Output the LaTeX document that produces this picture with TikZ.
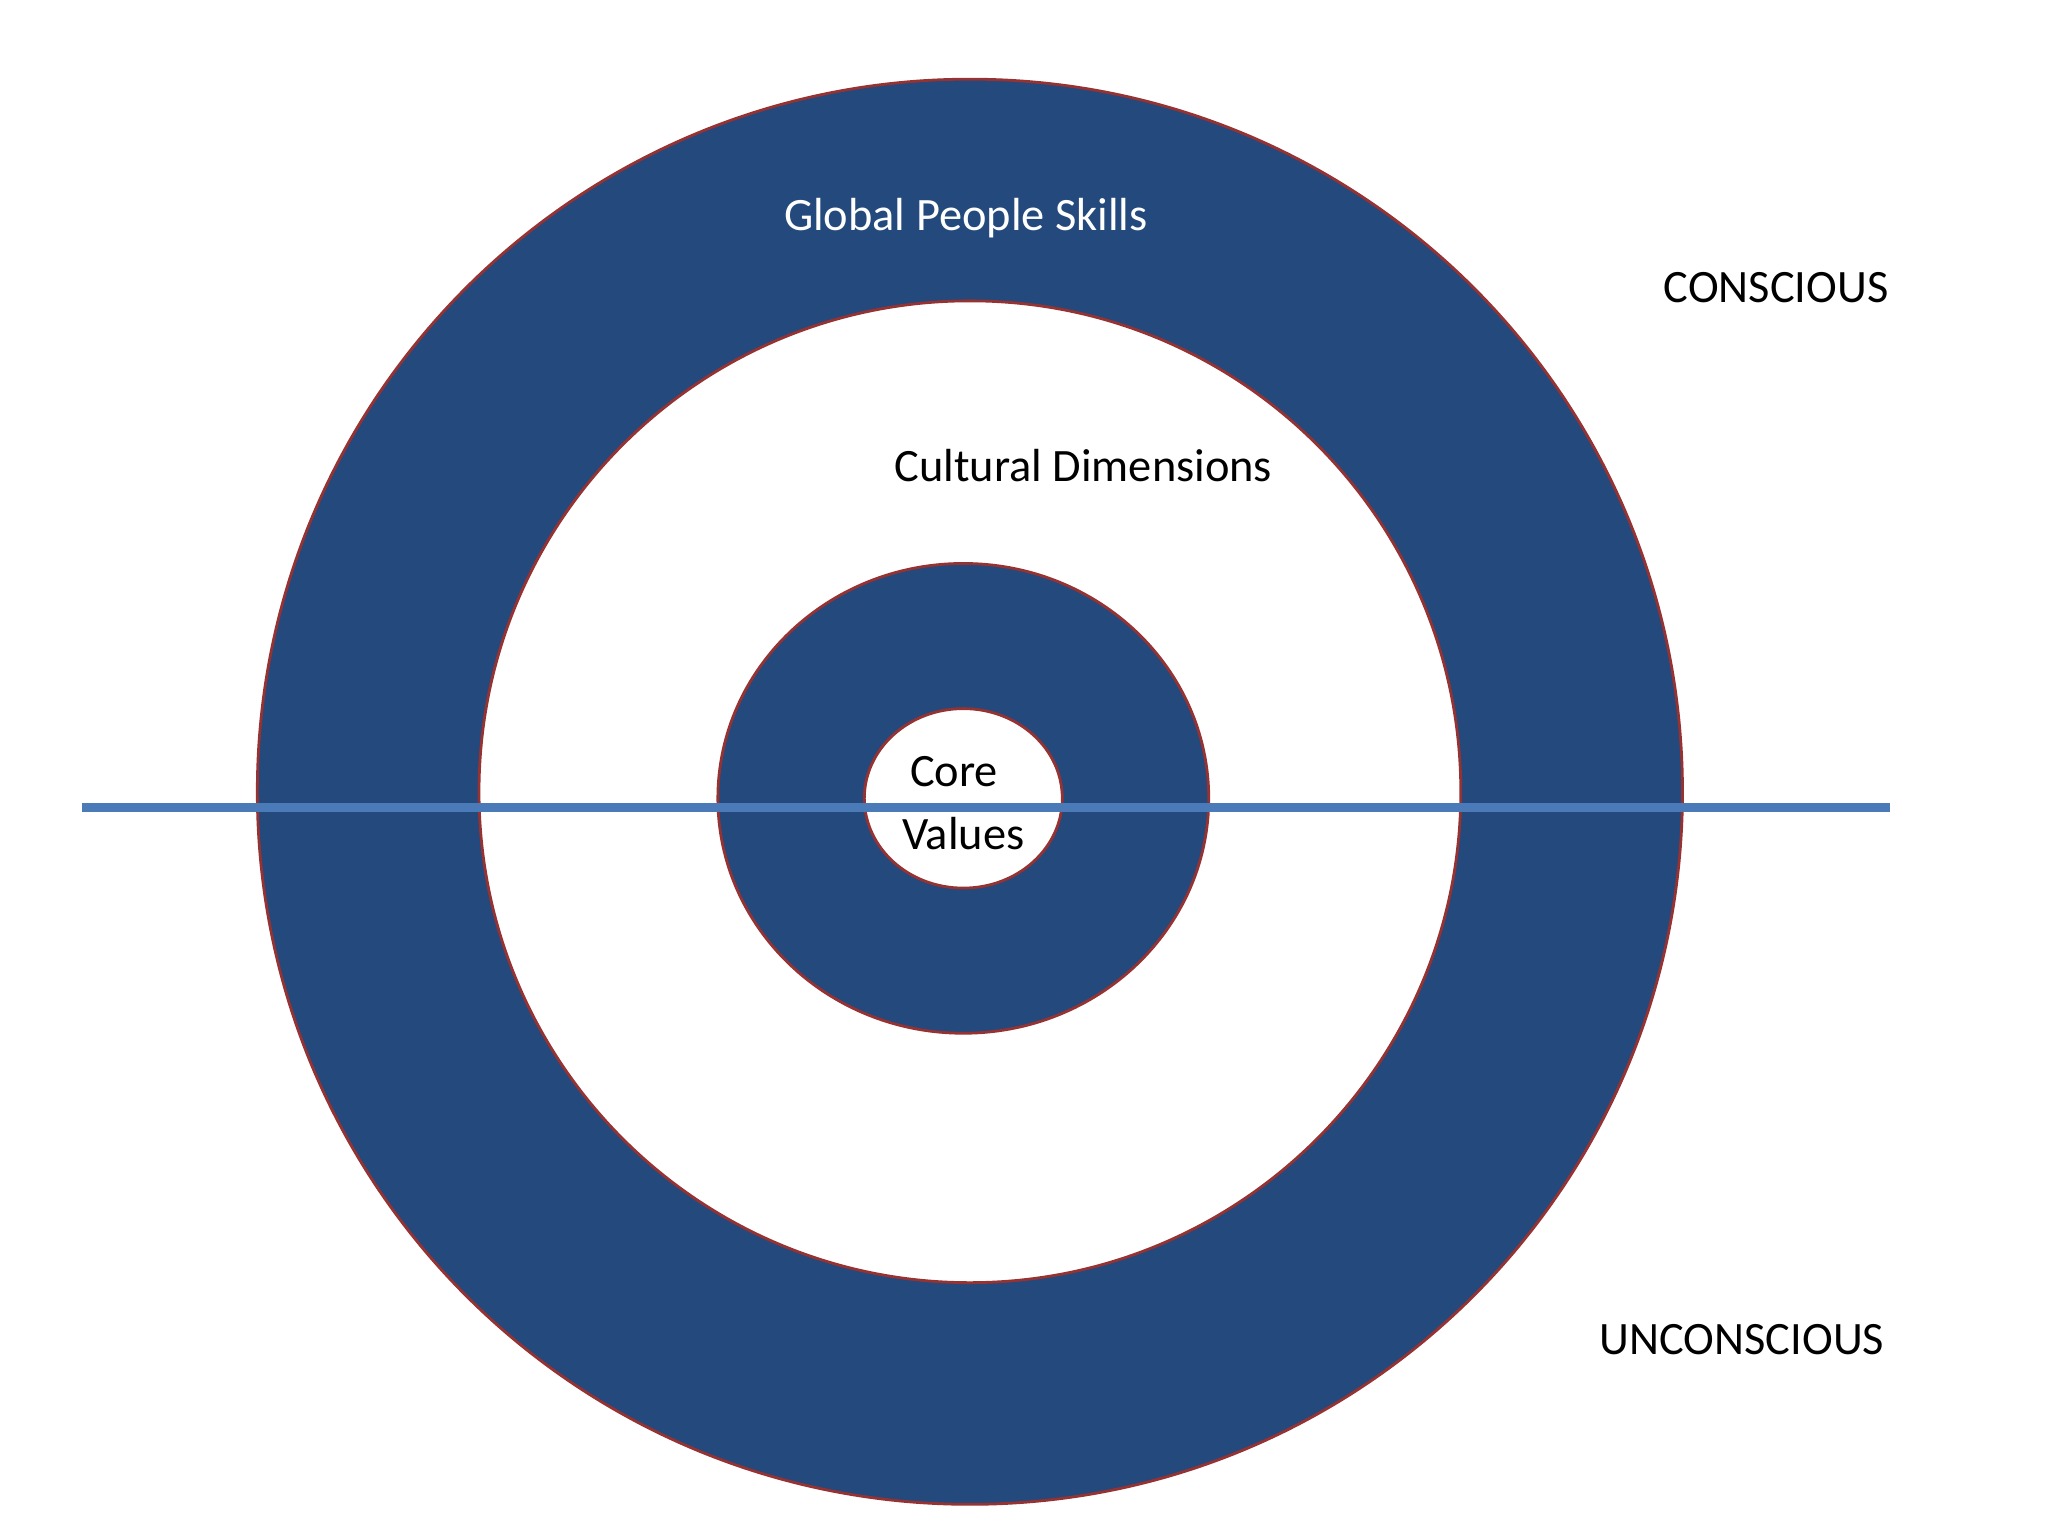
\documentclass[tikz,border=0pt]{standalone}
\usepackage{fontspec}
\setmainfont{Carlito}
\begin{document}
\begin{tikzpicture}[x=0.01cm,y=-0.01cm,
  ring/.style={draw={rgb,255:red,150;green,50;blue,50},line width=0.6pt},
  lbl/.style={font=\fontsize{10}{12}\selectfont}]
\definecolor{navy}{RGB}{35,73,125}
\definecolor{lineblue}{RGB}{74,122,184}
\useasboundingbox (0,0) rectangle (1552,1164);
\fill[white] (0,0) rectangle (1552,1164);
\draw[ring,fill=navy] (735,600) ellipse (540 and 540);
\draw[ring,fill=white] (735,600) ellipse (372 and 372);
\draw[ring,fill=navy] (730,605) ellipse (186 and 178);
\draw[ring,fill=white] (730,605) ellipse (75 and 68);
\coordinate (l1) at (62,612);
\coordinate (l2) at (1432,612);
\draw[lineblue,line width=1.8pt] (l1) -- (l2);
\node[lbl,text=white] (gps) at (732,165) {Global People Skills};
\node[lbl] (cd) at (821,353) {Cultural Dimensions};
\node[lbl] (core) at (723,585) {Core};
\node[lbl] (val) at (730,632) {Values};
\node[lbl] (con) at (1346,218) {CONSCIOUS};
\node[lbl] (uncon) at (1320,1015) {UNCONSCIOUS};
\end{tikzpicture}
\end{document}
